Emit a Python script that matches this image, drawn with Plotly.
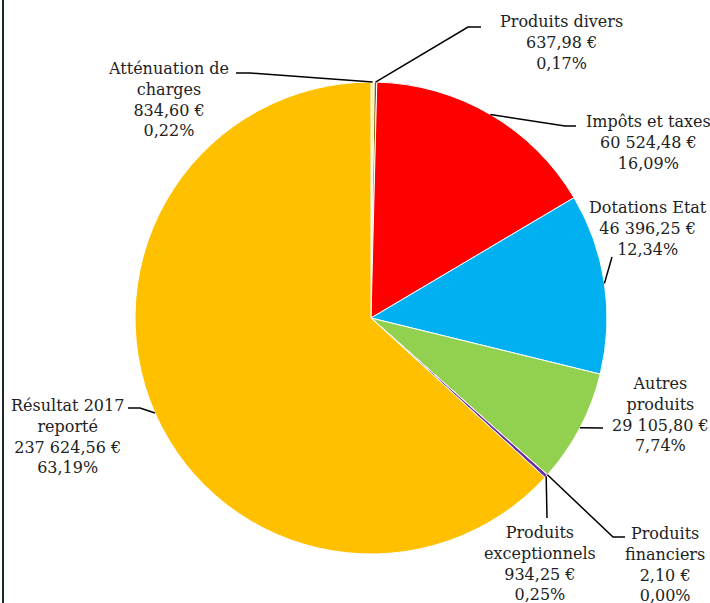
import math
import plotly.graph_objects as go

# ---- data ----
categories = ["Atténuation de charges", "Produits divers", "Impôts et taxes", "Dotations Etat",
              "Autres produits", "Produits financiers", "Produits exceptionnels", "Résultat 2017 reporté"]
label_lines = [["Atténuation de", "charges"], ["Produits divers"], ["Impôts et taxes"], ["Dotations Etat"],
               ["Autres", "produits"], ["Produits", "financiers"], ["Produits", "exceptionnels"],
               ["Résultat 2017", "reporté"]]
values = [834.60, 637.98, 60524.48, 46396.25, 29105.80, 2.10, 934.25, 237624.56]
value_text = ["834,60 €", "637,98 €", "60 524,48 €", "46 396,25 €", "29 105,80 €", "2,10 €", "934,25 €", "237 624,56 €"]
pct_text = ["0,22%", "0,17%", "16,09%", "12,34%", "7,74%", "0,00%", "0,25%", "63,19%"]
colors = ["#FFF2B0", "#7F6000", "#FF0000", "#00B0F0", "#92D050", "#4472C4", "#7030A0", "#FFC000"]

# ---- layout constants (pixels) ----
W, H = 710, 603
CX, CY, R = 371, 318, 236
FONT = "DejaVu Serif"
# label centre positions and leader-line elbow points (pixels)
label_pos = [(168, 99), (561, 42), (648, 142), (648, 229), (660, 414), (665, 564), (540, 563), (67, 436)]
elbows = [[(250, 73), (236, 73)], [(468, 27), (481, 27)], [(565, 126), (576, 126)], [(612, 257)],
          [(603, 428)], [(613, 537), (625, 537)], [(547, 518)], [(140, 408), (128, 408)]]


def px(x, y):
    return x / W, 1 - y / H


fig = go.Figure(go.Pie(
    labels=categories, values=values, sort=False, direction="clockwise", rotation=0,
    marker=dict(colors=colors, line=dict(color="white", width=1)),
    textinfo="none", showlegend=False,
    domain=dict(x=[(CX - R) / W, (CX + R) / W], y=[1 - (CY + R) / H, 1 - (CY - R) / H]),
))

total = sum(values)
cum = 0
shapes = []
annotations = []
for i, v in enumerate(values):
    mid = (cum + v / 2) / total * 2 * math.pi
    cum += v
    ax, ay = CX + R * math.sin(mid), CY - R * math.cos(mid)
    pts = [(ax, ay)] + elbows[i]
    path = "M " + " L ".join(f"{px(x, y)[0]:.5f},{px(x, y)[1]:.5f}" for x, y in pts)
    shapes.append(dict(type="path", path=path, xref="paper", yref="paper",
                       line=dict(color="black", width=1.5)))
    lx, ly = px(*label_pos[i])
    text = "<br>".join(label_lines[i] + [value_text[i], pct_text[i]])
    annotations.append(dict(x=lx, y=ly, xref="paper", yref="paper", text=text, showarrow=False,
                            xanchor="center", yanchor="middle", align="center",
                            font=dict(family=FONT, size=16, color="#222")))

# left border line
shapes.append(dict(type="line", xref="paper", yref="paper", x0=3 / W, x1=3 / W, y0=0, y1=1,
                   line=dict(color="#1E2B28", width=2)))

fig.update_layout(width=W, height=H, margin=dict(l=0, r=0, t=0, b=0),
                  paper_bgcolor="white", plot_bgcolor="white",
                  shapes=shapes, annotations=annotations)
fig.write_html("out.html", config={"displayModeBar": False},
               post_script="document.body.style.margin='0';document.body.style.overflow='hidden';")
